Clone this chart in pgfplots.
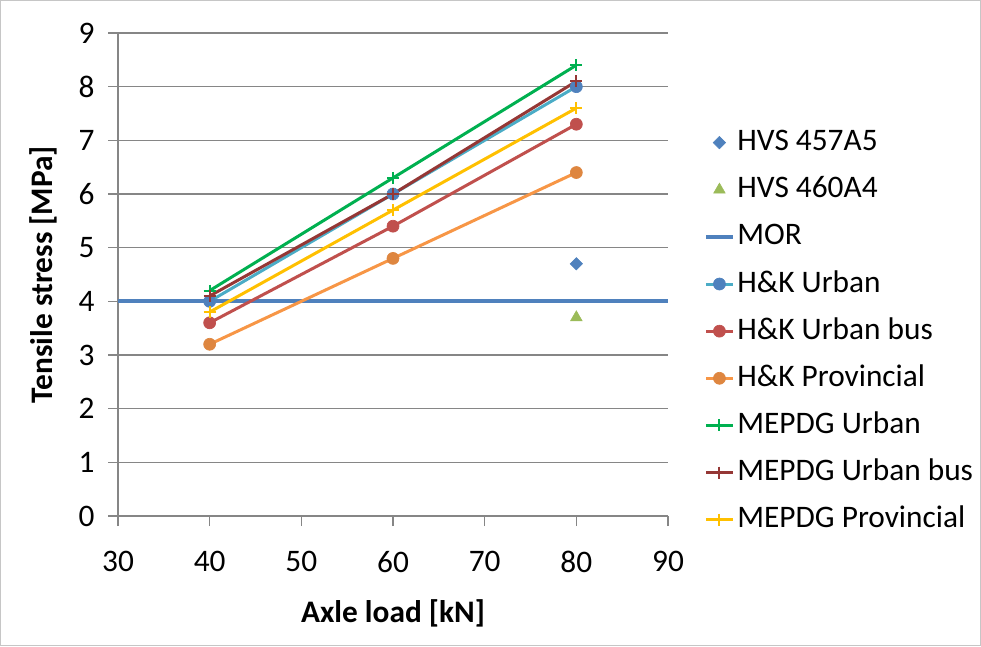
\documentclass[border=0pt]{standalone}
\usepackage{fontspec}
\setmainfont{Carlito}
\usepackage{pgfplots}
\pgfplotsset{compat=1.18}
\definecolor{xblue}{HTML}{4F81BD}
\definecolor{xteal}{HTML}{4BACC6}
\definecolor{xred}{HTML}{C0504D}
\definecolor{xgreenl}{HTML}{9BBB59}
\definecolor{xorange}{HTML}{F79646}
\definecolor{xorangem}{HTML}{DE8640}
\definecolor{xgreen}{HTML}{00B050}
\definecolor{xdred}{HTML}{953735}
\definecolor{xgold}{HTML}{FFC000}
\definecolor{xgrid}{HTML}{868686}
\begin{document}
\fontsize{23.5}{28}\selectfont
\begin{tikzpicture}
\useasboundingbox (0,0) rectangle (735.75pt,484.5pt);
\draw[line width=0.75pt, gray!45] (0.375pt,0.375pt) rectangle (735.375pt,484.125pt);
\begin{axis}[
  at={(88.5pt,97.5pt)}, anchor=south west,
  scale only axis, width=412.5pt, height=362.25pt,
  xmin=30, xmax=90, ymin=0, ymax=9,
  xtick={30,40,...,90}, ytick={0,1,...,9},
  axis x line*=bottom, axis y line*=left,
  axis line style={xgrid, line width=1pt},
  tick style={xgrid, line width=1pt},
  tick align=outside, major tick length=7.5pt,
  ymajorgrids, grid style={xgrid, line width=1pt},
  /pgf/number format/assume math mode=true,
  tick label style={font=\fontsize{23.5}{28}\selectfont},
  xticklabel style={yshift=-11pt},
  yticklabel style={xshift=-2pt},
  xlabel={\textbf{Axle load [kN]}},
  ylabel={\textbf{Tensile stress [MPa]}},
  xlabel style={yshift=-4pt},
  label style={font=\fontsize{23.5}{28}\selectfont},
  legend style={at={(1.058,0.815)}, anchor=north west, draw=none, fill=none,
    font=\fontsize{23.5}{28}\selectfont, row sep=9.35pt,
    nodes={inner sep=2pt, text height=17pt, text depth=5pt}},
  legend cell align=left,
  legend image code/.code={\draw[mark repeat=2,mark phase=2] plot coordinates {(0cm,0cm) (0.35cm,0cm) (0.7cm,0cm)};},
  clip=false,
]
\addplot[only marks, mark=square*, mark size=3.3pt, mark options={rotate=45}, color=xblue] coordinates {(80,4.7)};
\addlegendentry{HVS 457A5}
\addplot[only marks, mark=triangle*, mark size=5pt, color=xgreenl] coordinates {(80,3.7)};
\addlegendentry{HVS 460A4}
\addplot[xblue, line width=3pt, no marks] coordinates {(30,4) (90,4)};
\addlegendentry{MOR}
\addplot[xteal, line width=2.25pt, mark=*, mark size=4.5pt, mark options={fill=xblue, draw=xblue, line width=0.5pt}] coordinates {(40,4.0) (60,6.0) (80,8.0)};
\addlegendentry{H\&K Urban}
\addplot[xred, line width=2.25pt, mark=*, mark size=4.5pt, mark options={fill=xred, draw=xred, line width=0.5pt}] coordinates {(40,3.6) (60,5.4) (80,7.3)};
\addlegendentry{H\&K Urban bus}
\addplot[xorange, line width=2.25pt, mark=*, mark size=4.5pt, mark options={fill=xorangem, draw=xorangem, line width=0.5pt}] coordinates {(40,3.2) (60,4.8) (80,6.4)};
\addlegendentry{H\&K Provincial}
\addplot[xgreen, line width=2.25pt, mark=+, mark size=4.5pt, mark options={line width=1.5pt}] coordinates {(40,4.2) (60,6.3) (80,8.4)};
\addlegendentry{MEPDG Urban}
\addplot[xdred, line width=2.25pt, mark=+, mark size=4.5pt, mark options={line width=1.5pt}] coordinates {(40,4.1) (60,6.0) (80,8.1)};
\addlegendentry{MEPDG Urban bus}
\addplot[xgold, line width=2.25pt, mark=+, mark size=4.5pt, mark options={line width=1.5pt}] coordinates {(40,3.8) (60,5.7) (80,7.6)};
\addlegendentry{MEPDG Provincial}
\end{axis}
\end{tikzpicture}
\end{document}
